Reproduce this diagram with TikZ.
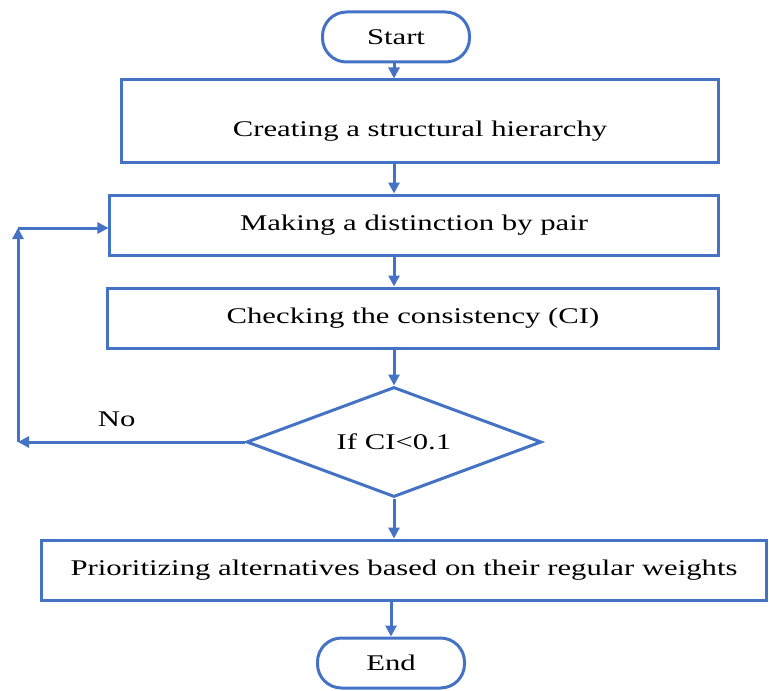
\documentclass[tikz,border=0pt]{standalone}
\usepackage{fontspec}
\setmainfont{Liberation Serif}[FakeStretch=1.37]
\usetikzlibrary{shapes.geometric,arrows.meta}
\definecolor{flowblue}{RGB}{68,114,196}
\begin{document}
\begin{tikzpicture}[x=1bp,y=-1bp,
  every node/.style={font=\fontsize{22.5}{26}\selectfont},
  line/.style={draw=flowblue,line width=3bp},
  arrow/.style={line,-{Triangle[width=11bp,length=11bp]}},
  terminal/.style={line,rectangle,rounded corners=24bp,minimum width=147bp,minimum height=50bp},
  procbox/.style={line,rectangle,minimum height=60bp,inner sep=0pt},
  decision/.style={line,diamond,aspect=2.68,inner sep=0pt,minimum width=295bp,minimum height=110bp}]
\useasboundingbox (0,0) rectangle (769,691);

% main column of steps
\node[terminal] (start) at (396,37) {Start};
\node[procbox,minimum width=596bp,minimum height=82bp] (hier) at (420,121) {\raisebox{-16bp}[0pt][0pt]{Creating a structural hierarchy}};
\node[procbox,minimum width=608bp] (pair) at (414,225) {Making a distinction by pair};
\node[procbox,minimum width=610bp] (check) at (413,318) {Checking the consistency (CI)};
\node[decision] (test) at (394,442) {If CI<0.1};
\node[procbox,minimum width=724bp] (prio) at (404,570) {Prioritizing alternatives based on their regular weights};
\node[terminal] (stop) at (391,663) {End};

% feedback corners
\coordinate (loopdown) at (18,442);
\coordinate (loopup) at (18,228);

% flow arrows
\draw[arrow] (start.south -| test) -- (hier.north -| test);
\draw[arrow] (hier.south -| test) -- (pair.north -| test);
\draw[arrow] (pair.south -| test) -- (check.north -| test);
\draw[arrow] (check.south -| test) -- (test.north);
\draw[arrow] (test.south) -- (prio.north -| test);
\draw[arrow] (prio.south -| stop) -- (stop.north);

% "No" branch back to the pairwise step
\draw[arrow] (test.west) -- (loopdown) node[pos=0.565,above=10bp,text=black] {No};
\draw[arrow] (loopdown) -- (loopup);
\draw[arrow] (loopup) -- (loopup -| pair.west);
\end{tikzpicture}
\end{document}
